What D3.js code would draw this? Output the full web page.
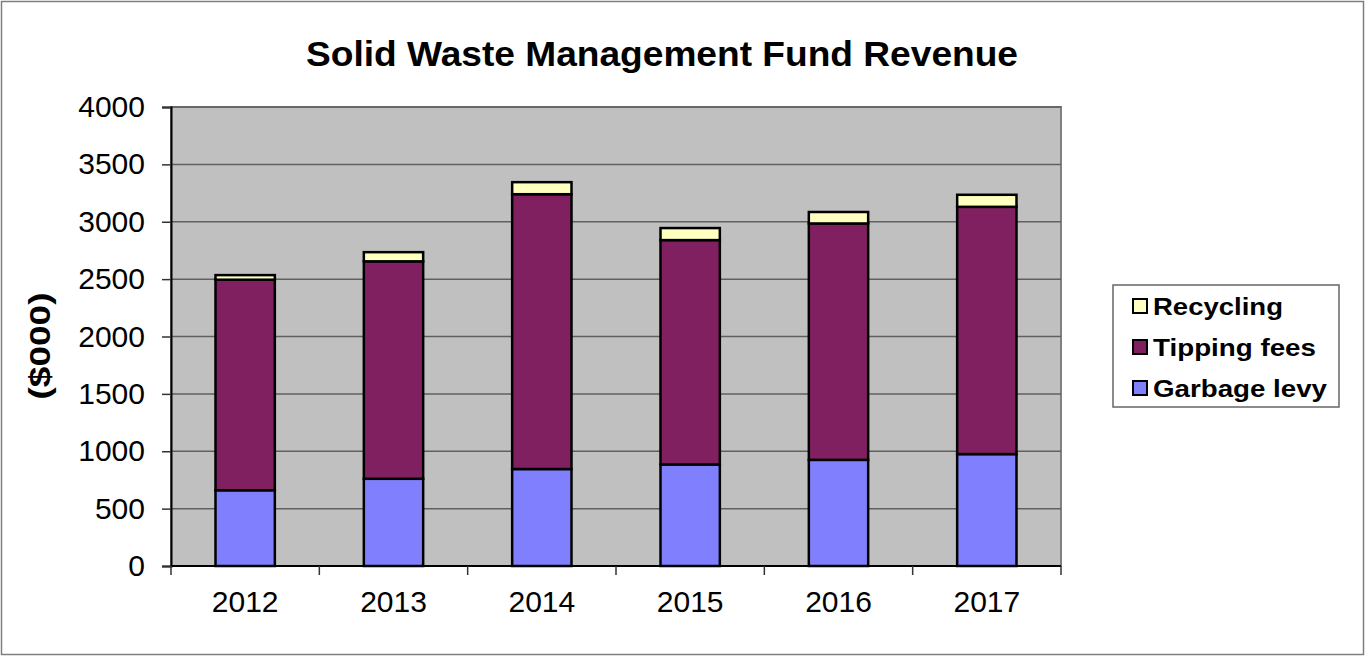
<!DOCTYPE html>
<html lang="en">
<head>
    <meta charset="UTF-8">
    <title>Solid Waste Management Fund Revenue</title>
    <style type="text/css">
        html, body { padding:0; margin:0; background:#fff; }
        svg { display:block; font-family: Arial, "Liberation Sans", sans-serif; }
    </style>
</head>
<body>
<script src="https://d3js.org/d3.v7.min.js"></script>
<script type="text/javascript">
    var years = ['2012', '2013', '2014', '2015', '2016', '2017'];
    var garbageLevy = [660, 760, 845, 885, 925, 975];
    var tippingFees = [1835, 1895, 2395, 1955, 2060, 2155];
    var recycling = [40, 80, 105, 105, 100, 105];
    var yTicks = [0, 500, 1000, 1500, 2000, 2500, 3000, 3500, 4000];
    var seriesNames = ['Garbage levy', 'Tipping fees', 'Recycling'];
    var seriesColors = ['#8080ff', '#802060', '#ffffc0'];

    var width = 1366,
        height = 657,
        plot = {left: 171, top: 107, right: 1061, bottom: 566};

    var svg = d3.select('body').append('svg')
        .attr('width', width)
        .attr('height', height);

    // outer chart border
    svg.append('rect')
        .attr('x', 1.5).attr('y', 1.5)
        .attr('width', width - 4).attr('height', height - 4)
        .attr('fill', '#fff')
        .attr('stroke', '#7f7f7f')
        .attr('stroke-width', 1.5);

    var xScale = d3.scaleBand().domain(years).range([plot.left, plot.right]).paddingInner(0.6).paddingOuter(0.3);
    var xEdges = d3.scalePoint().domain(d3.range(years.length + 1)).range([plot.left, plot.right]);
    var yScale = d3.scaleLinear().domain([0, 4000]).range([plot.bottom, plot.top]);

    // plot background
    svg.append('rect')
        .attr('x', plot.left).attr('y', plot.top)
        .attr('width', plot.right - plot.left).attr('height', plot.bottom - plot.top)
        .attr('fill', '#c0c0c0')
        .attr('stroke', '#808080')
        .attr('stroke-width', 2);

    // gridlines
    svg.append('g').selectAll('line')
        .data(yTicks.slice(1))
        .enter().append('line')
        .attr('x1', plot.left).attr('x2', plot.right)
        .attr('y1', function(d) { return yScale(d); })
        .attr('y2', function(d) { return yScale(d); })
        .attr('stroke', '#606060')
        .attr('stroke-width', 1.5);

    // stacked bars
    var stack = d3.stack().keys([0, 1, 2]).value(function(d, k) { return d[k]; });
    var rows = years.map(function(y, i) { return [garbageLevy[i], tippingFees[i], recycling[i]]; });
    var layers = stack(rows);

    svg.append('g').selectAll('g')
        .data(layers)
        .enter().append('g')
        .attr('fill', function(d, i) { return seriesColors[i]; })
        .selectAll('rect')
        .data(function(d) { return d; })
        .enter().append('rect')
        .attr('x', function(d, i) { return xScale(years[i]); })
        .attr('width', xScale.bandwidth())
        .attr('y', function(d) { return yScale(d[1]); })
        .attr('height', function(d) { return yScale(d[0]) - yScale(d[1]); })
        .attr('stroke', '#000')
        .attr('stroke-width', 2.5);

    // y axis
    var yAxis = d3.axisLeft(yScale).tickValues(yTicks).tickSize(9).tickPadding(17).tickFormat(d3.format('d'));
    var gy = svg.append('g')
        .attr('transform', 'translate(' + plot.left + ',0)')
        .call(yAxis);
    gy.select('.domain').attr('stroke', '#000').attr('stroke-width', 2);
    gy.selectAll('.tick line').attr('stroke', '#333').attr('stroke-width', 1.5);
    gy.selectAll('.tick text')
        .attr('font-family', 'Arial, "Liberation Sans", sans-serif')
        .attr('font-size', 30)
        .attr('fill', '#000');

    // x axis
    var gx = svg.append('g')
        .attr('transform', 'translate(0,' + plot.bottom + ')');
    gx.append('line')
        .attr('x1', plot.left).attr('x2', plot.right)
        .attr('stroke', '#000').attr('stroke-width', 2);
    gx.selectAll('line.tick')
        .data(d3.range(years.length + 1))
        .enter().append('line')
        .attr('class', 'tick')
        .attr('x1', function(d) { return xEdges(d); })
        .attr('x2', function(d) { return xEdges(d); })
        .attr('y1', 0).attr('y2', 9)
        .attr('stroke', '#333').attr('stroke-width', 1.5);
    gx.selectAll('text')
        .data(years)
        .enter().append('text')
        .attr('x', function(d) { return xScale(d) + xScale.bandwidth() / 2; })
        .attr('y', 46)
        .attr('text-anchor', 'middle')
        .attr('font-size', 30)
        .text(function(d) { return d; });

    // title
    svg.append('text')
        .attr('x', 662).attr('y', 66)
        .attr('text-anchor', 'middle')
        .attr('font-size', 35)
        .attr('font-weight', 'bold')
        .attr('textLength', 712)
        .attr('lengthAdjust', 'spacingAndGlyphs')
        .text('Solid Waste Management Fund Revenue');

    // y axis title
    svg.append('text')
        .attr('transform', 'translate(50,346) rotate(-90)')
        .attr('text-anchor', 'middle')
        .attr('font-size', 30)
        .attr('font-weight', 'bold')
        .attr('textLength', 107)
        .attr('lengthAdjust', 'spacingAndGlyphs')
        .text('($000)');

    // legend
    var legend = svg.append('g');
    legend.append('rect')
        .attr('x', 1113).attr('y', 285)
        .attr('width', 226).attr('height', 122)
        .attr('fill', '#fff')
        .attr('stroke', '#666')
        .attr('stroke-width', 1.5);
    var legendOrder = [2, 1, 0];
    var legendWidths = [174, 163, 130];
    var items = legend.selectAll('g.item')
        .data(legendOrder)
        .enter().append('g')
        .attr('class', 'item')
        .attr('transform', function(d, i) { return 'translate(1133,' + (305.5 + i * 41) + ')'; });
    items.append('rect')
        .attr('x', 0).attr('y', -6.5)
        .attr('width', 14).attr('height', 14)
        .attr('fill', function(d) { return seriesColors[d]; })
        .attr('stroke', '#000')
        .attr('stroke-width', 2);
    items.append('text')
        .attr('x', 20).attr('y', 9)
        .attr('font-size', 24)
        .attr('font-weight', 'bold')
        .attr('textLength', function(d) { return legendWidths[d]; })
        .attr('lengthAdjust', 'spacingAndGlyphs')
        .text(function(d) { return seriesNames[d]; });
</script>
</body>
</html>
